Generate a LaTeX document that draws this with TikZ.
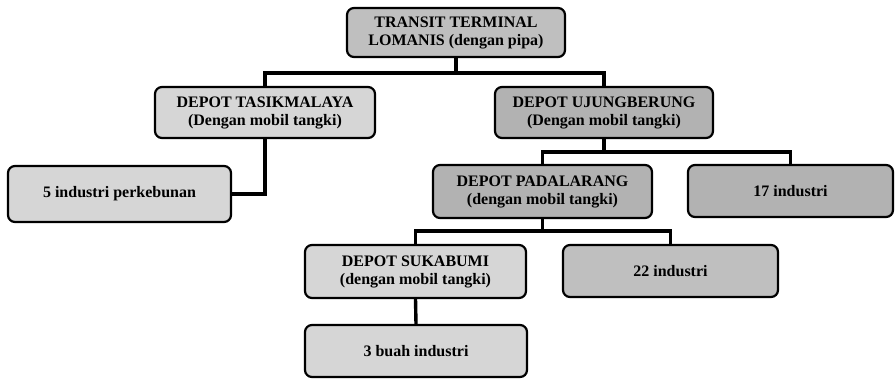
\documentclass[tikz,border=0pt]{standalone}
\usepackage{fontspec}
\setmainfont{Liberation Serif}
\begin{document}
\begin{tikzpicture}[x=1pt,y=-1pt,
  box/.style={draw=black, line width=2.2pt, rounded corners=7pt, align=center,
    inner sep=0pt, font=\fontsize{16}{18}\selectfont\bfseries, text=black},
  light/.style={box, fill=gray!32},
  mid/.style={box, fill=gray!50},
  dark/.style={box, fill=gray!60},
  link/.style={draw=black, line width=3.4pt}]
\useasboundingbox (0,0) rectangle (896,378);
\node[mid, minimum width=218pt, minimum height=49pt] (top) at (456,32.5) {TRANSIT TERMINAL\\LOMANIS (dengan pipa)};
\node[light, minimum width=220pt, minimum height=51pt] (tasik) at (265,112.5) {DEPOT TASIKMALAYA\\(Dengan mobil tangki)};
\node[dark, minimum width=218pt, minimum height=51pt] (ujung) at (604,112.5) {DEPOT UJUNGBERUNG\\(Dengan mobil tangki)};
\node[light, minimum width=223pt, minimum height=56pt] (ind5) at (119.5,194) {5 industri perkebunan};
\node[dark, minimum width=219pt, minimum height=53pt] (pad) at (542.5,191.5) {DEPOT PADALARANG\\(dengan mobil tangki)};
\node[dark, minimum width=205pt, minimum height=52pt] (ind17) at (790.5,191) {17 industri};
\node[light, minimum width=221pt, minimum height=53pt] (suka) at (415.5,271.5) {DEPOT SUKABUMI\\(dengan mobil tangki)};
\node[mid, minimum width=215pt, minimum height=52pt] (ind22) at (670.5,271) {22 industri};
\node[light, minimum width=222pt, minimum height=52pt] (buah) at (416,351) {3 buah industri};
\draw[link] (top.south) -- ++(0,15) -| (tasik.north);
\draw[link] (top.south) -- ++(0,15) -| (ujung.north);
\draw[link] (tasik.south) |- (ind5.east);
\draw[link] (ujung.south) -- ++(0,13) -| (pad.north);
\draw[link] (ujung.south) -- ++(0,13) -| (ind17.north);
\draw[link] (pad.south) -- ++(0,12) -| (suka.north);
\draw[link] (pad.south) -- ++(0,12) -| (ind22.north);
\draw[link] (suka.south) -- (buah.north);
\end{tikzpicture}
\end{document}
